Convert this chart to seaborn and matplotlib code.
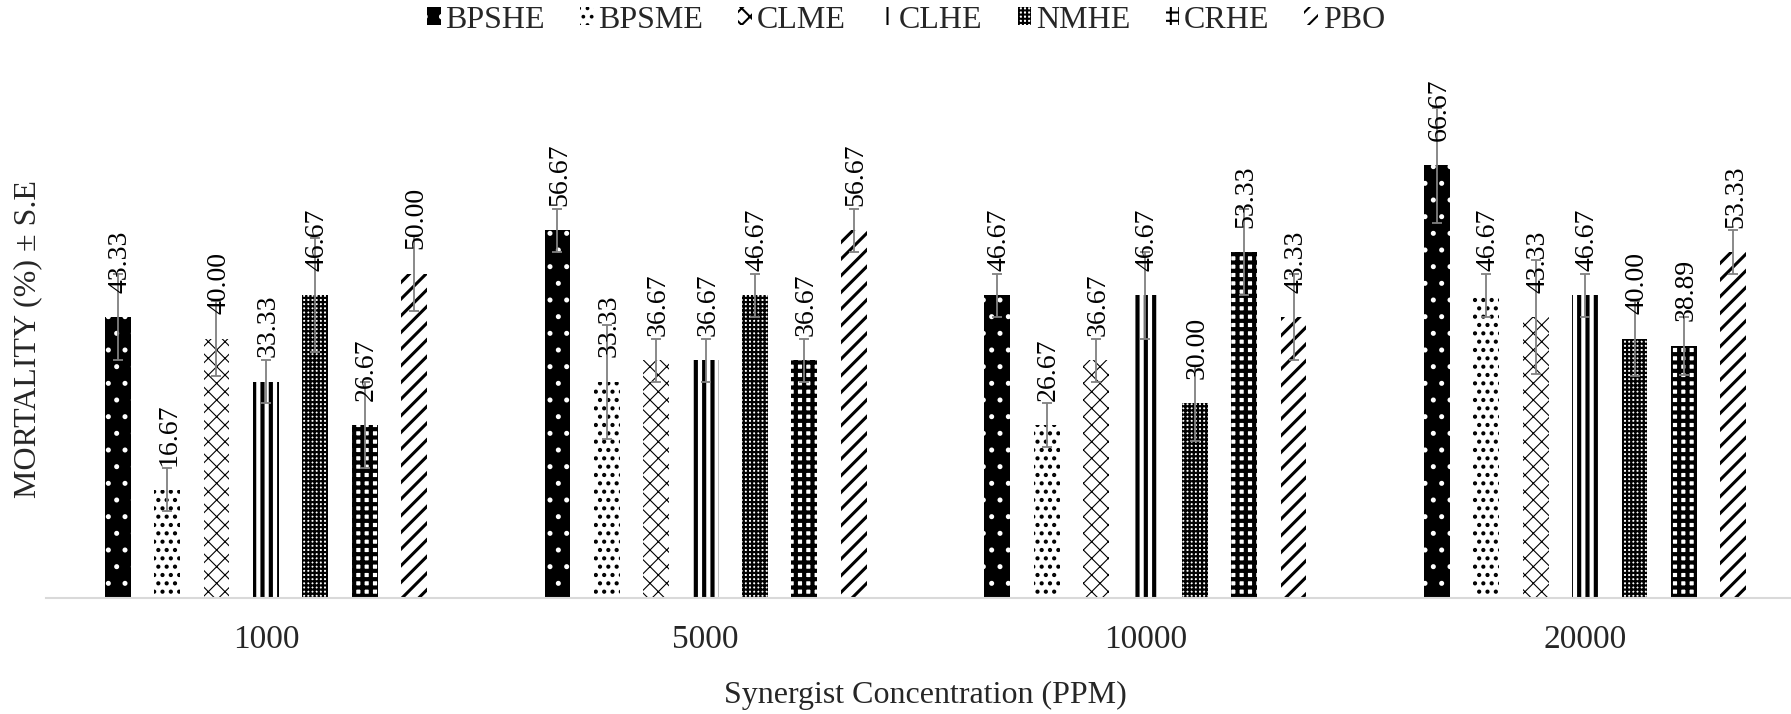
import numpy as np
import pandas as pd
import matplotlib
matplotlib.use("Agg")
import matplotlib.pyplot as plt
import seaborn as sns

# ---------------- data ----------------
concentrations = ["1000", "5000", "10000", "20000"]
series = ["BPSHE", "BPSME", "CLME", "CLHE", "NMHE", "CRHE", "PBO"]

BPSHE = [43.33, 56.67, 46.67, 66.67]
BPSME = [16.67, 33.33, 26.67, 46.67]
CLME = [40.00, 36.67, 36.67, 43.33]
CLHE = [33.33, 36.67, 46.67, 46.67]
NMHE = [46.67, 46.67, 30.00, 40.00]
CRHE = [26.67, 36.67, 53.33, 38.89]
PBO = [50.00, 56.67, 43.33, 53.33]

BPSHE_se = [6.67, 3.33, 3.33, 8.82]
BPSME_se = [3.33, 8.82, 3.33, 3.33]
CLME_se = [5.77, 3.33, 3.33, 8.82]
CLHE_se = [3.33, 3.33, 6.67, 3.33]
NMHE_se = [8.82, 3.33, 5.77, 5.77]
CRHE_se = [6.67, 3.33, 6.67, 4.44]
PBO_se = [5.77, 3.33, 6.67, 3.33]

values = [BPSHE, BPSME, CLME, CLHE, NMHE, CRHE, PBO]
errors = [BPSHE_se, BPSME_se, CLME_se, CLHE_se, NMHE_se, CRHE_se, PBO_se]

rows = []
for s, vals, ses in zip(series, values, errors):
    for c, v, e in zip(concentrations, vals, ses):
        rows.append({"conc": c, "series": s, "mortality": v, "se": e})
df = pd.DataFrame(rows)

# ---------------- styles ----------------
# (facecolor, hatch colour, hatch, hatch linewidth)
styles = {
    "BPSHE": ("black", "white", ".", 1.2),
    "BPSME": ("white", "black", "..", 1.8),
    "CLME": ("white", "black", "xx", 0.8),
    "CLHE": ("white", "black", "||", 3.0),
    "NMHE": ("white", "black", "++++", 1.6),
    "CRHE": ("white", "black", "++", 3.0),
    "PBO": ("white", "black", "//", 2.2),
}

sns.set_theme(style="white")
plt.rcParams["font.family"] = ["Liberation Serif", "DejaVu Serif"]
plt.rcParams["hatch.linewidth"] = 1.5

fig = plt.figure(figsize=(17.91, 7.14), dpi=100)
ax = fig.add_axes([46 / 1791, 1 - 598 / 714, 1759 / 1791, 519 / 714])

sns.barplot(data=df, x="conc", y="mortality", hue="series",
            order=concentrations, hue_order=series,
            palette=["white"] * len(series), errorbar=None,
            width=0.786, gap=0.474, legend=False, ax=ax,
            linewidth=0, saturation=1)

bar_containers = list(ax.containers)


def style_patch(p, name):
    fc, hc, hatch, hlw = styles[name]
    p.set_facecolor(fc)
    p.set_edgecolor(hc)
    p.set_linewidth(0)
    p.set_hatch(hatch)
    if hasattr(p, "set_hatch_linewidth"):
        p.set_hatch_linewidth(hlw)


for cont, name, ses in zip(bar_containers, series, errors):
    for bar, se in zip(cont, ses):
        style_patch(bar, name)
        x = bar.get_x() + bar.get_width() / 2
        h = bar.get_height()
        ax.errorbar(x, h, yerr=se, color="#808080", elinewidth=1.3,
                    capsize=3.6, capthick=1.3, zorder=4)
        ax.annotate(f"{h:.2f}", xy=(x, h), xytext=(1.5, 17.5),
                    textcoords="offset points", rotation=90,
                    ha="center", va="bottom", fontsize=20, color="black",
                    zorder=5)

ax.set_ylim(0, 80)
ax.set_xlim(-0.5, 3.5)
ax.set_yticks([])
for side in ["left", "right", "top"]:
    ax.spines[side].set_visible(False)
ax.spines["bottom"].set_color("#d9d9d9")
ax.spines["bottom"].set_linewidth(1.5)
ax.tick_params(axis="x", length=0, pad=19, labelsize=24)
ax.set_xlabel("Synergist Concentration (PPM)", fontsize=23, labelpad=19)
ax.set_ylabel("MORTALITY (%) ± S.E", fontsize=23)
ax.yaxis.set_label_coords(-(46 - 42) / 1759, 0.5)

handles = [cont.patches[0] for cont in bar_containers]
fig.legend(handles, series, loc="center", bbox_to_anchor=(906 / 1791, 1 - 20 / 714),
           ncol=7, frameon=False, fontsize=23, handlelength=0.42,
           handleheight=0.5, handletextpad=0.15, columnspacing=1.1,
           borderpad=0)

fig.savefig("out.png", dpi=100)
